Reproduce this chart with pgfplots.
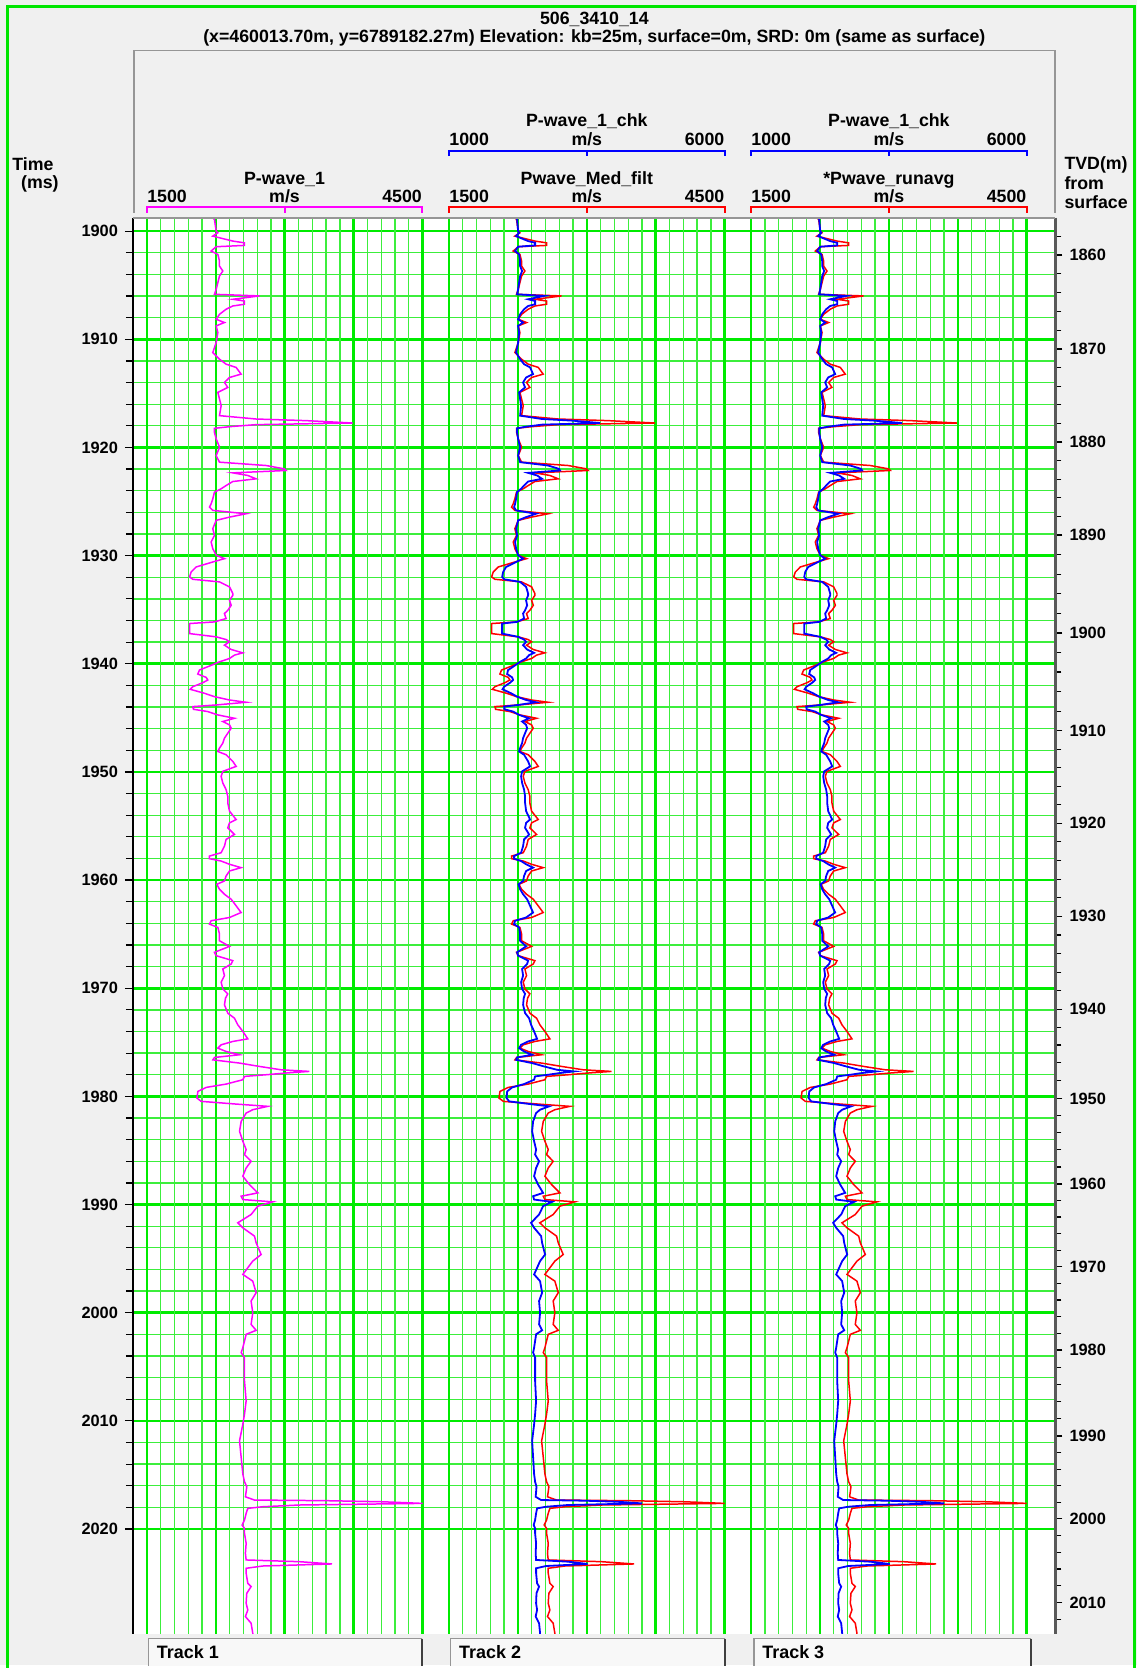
\documentclass[border=0pt]{standalone}
\usepackage{pgfplots}
\pgfplotsset{compat=1.18}
\usepackage{pgfplotstable}
\usepackage{fontspec}
\setmainfont{Liberation Sans}

\definecolor{gridmaj}{RGB}{0,235,0}
\definecolor{gridmin}{RGB}{60,238,60}
\definecolor{bggray}{RGB}{240,240,240}
\definecolor{boxline}{RGB}{150,150,150}
\definecolor{logmag}{RGB}{255,0,255}
\definecolor{logred}{RGB}{255,0,0}
\definecolor{logblue}{RGB}{0,0,255}
\definecolor{frameg}{RGB}{0,230,0}

% P-wave velocity (m/s) against two-way time (ms)
\pgfplotstableread{
t v
1898.77 2217
1898.92 2235
1900.00 2254
1900.15 2272
1900.46 2217
1900.92 2435
1901.08 2562
1901.32 2562
1901.44 2254
1901.84 2199
1902.15 2272
1902.77 2290
1903.23 2290
1903.69 2326
1904.15 2290
1904.76 2272
1905.38 2254
1905.84 2235
1905.99 2725
1906.30 2435
1906.46 2562
1906.76 2562
1906.92 2435
1907.22 2362
1907.69 2290
1908.15 2254
1908.45 2344
1908.76 2254
1909.38 2272
1910.30 2254
1911.22 2217
1911.84 2290
1912.30 2362
1912.60 2471
1913.22 2525
1913.53 2399
1913.99 2344
1914.45 2380
1914.91 2272
1915.52 2290
1916.14 2308
1917.06 2290
1917.37 2688
1917.52 3232
1917.74 3739
1917.89 2688
1918.08 2399
1918.23 2235
1918.60 2235
1919.21 2254
1919.98 2290
1920.75 2254
1921.36 2290
1921.67 2797
1921.98 2996
1922.13 3014
1922.35 2435
1922.59 2598
1922.90 2688
1923.15 2435
1923.52 2362
1923.82 2308
1924.13 2235
1924.75 2217
1925.21 2199
1925.52 2181
1925.82 2217
1926.13 2580
1926.44 2399
1926.74 2254
1927.51 2217
1928.13 2235
1928.74 2199
1929.36 2217
1929.97 2254
1930.28 2344
1930.59 2217
1931.05 2036
1931.51 1982
1931.97 1964
1932.19 2000
1932.43 2290
1932.89 2399
1933.51 2435
1933.67 2435
1934.14 2399
1934.60 2417
1935.06 2380
1935.36 2344
1935.82 2362
1936.13 2235
1936.28 1964
1937.21 1964
1937.51 2254
1937.76 2362
1937.97 2399
1938.28 2344
1938.68 2417
1938.99 2543
1939.20 2453
1939.51 2399
1939.82 2290
1940.21 2181
1940.58 2072
1940.95 2054
1941.26 2145
1941.50 2163
1941.75 2109
1942.12 2000
1942.36 1971
1942.73 2127
1943.04 2235
1943.35 2399
1943.56 2580
1943.81 2254
1943.96 2000
1944.21 2007
1944.42 2163
1944.73 2272
1945.04 2453
1945.34 2326
1945.65 2399
1945.96 2417
1946.42 2380
1946.88 2344
1947.34 2326
1947.80 2290
1948.11 2272
1948.41 2362
1949.03 2435
1949.49 2471
1949.95 2326
1950.41 2308
1951.02 2326
1951.64 2362
1952.25 2380
1952.86 2380
1953.63 2399
1954.40 2471
1954.71 2399
1955.17 2380
1955.78 2453
1956.24 2362
1956.86 2344
1957.47 2308
1957.78 2181
1958.02 2181
1958.24 2308
1958.54 2399
1958.85 2525
1959.16 2399
1959.62 2362
1960.08 2344
1960.39 2261
1960.85 2290
1961.31 2344
1961.77 2417
1962.38 2471
1963.00 2525
1963.46 2399
1963.76 2199
1964.07 2181
1964.38 2272
1964.99 2290
1965.61 2290
1966.13 2399
1966.68 2235
1966.99 2254
1967.45 2435
1967.76 2417
1968.22 2326
1968.83 2344
1969.44 2308
1970.06 2326
1970.52 2380
1970.92 2355
1971.54 2344
1972.31 2381
1972.77 2453
1973.38 2489
1974.00 2544
1974.68 2598
1974.92 2435
1975.23 2308
1975.54 2272
1975.85 2363
1976.15 2508
1976.40 2236
1976.62 2218
1976.92 2508
1977.23 2725
1977.54 2960
1977.69 3268
1977.85 2997
1978.00 2797
1978.15 2562
1978.46 2544
1978.86 2363
1979.17 2145
1979.54 2055
1980.15 2044
1980.46 2091
1980.71 2471
1980.92 2816
1981.23 2652
1981.54 2580
1982.31 2526
1983.23 2508
1984.15 2544
1984.92 2580
1985.38 2562
1986.00 2634
1986.62 2580
1987.38 2544
1988.15 2616
1988.92 2707
1989.23 2526
1989.54 2544
1989.75 2870
1990.15 2707
1990.92 2634
1991.69 2489
1992.15 2544
1992.92 2671
1993.54 2689
1994.62 2743
1995.23 2652
1996.46 2544
1997.08 2652
1998.15 2689
1998.92 2634
2000.00 2652
2001.08 2634
2001.63 2689
2002.00 2580
2003.23 2544
2003.69 2526
2004.15 2562
2006.31 2562
2008.15 2580
2009.38 2562
2010.31 2544
2011.85 2508
2013.38 2526
2014.92 2544
2015.63 2562
2016.09 2587
2016.55 2580
2017.02 2572
2017.32 2670
2017.38 3449
2017.48 4065
2017.63 4500
2017.78 3159
2017.94 2761
2018.09 2598
2018.55 2580
2019.17 2562
2019.63 2536
2019.94 2562
2020.40 2562
2021.32 2580
2022.25 2572
2022.86 2580
2023.02 3159
2023.23 3514
2023.42 2761
2023.63 2580
2024.09 2580
2025.02 2598
2025.32 2634
2025.94 2587
2026.86 2580
2027.48 2598
2028.09 2572
2028.71 2634
2029.63 2652
2029.70 2652
}\pwave

\newcommand{\lbl}{\fontsize{8.2}{9}\selectfont\bfseries}
\newcommand{\hdr}{\fontsize{8.9}{10}\selectfont\bfseries}

\pgfplotsset{
  logtrack/.style={
    anchor=north west, scale only axis, width=138.2pt, height=710pt,
    ymin=1898.76, ymax=2029.70, y dir=reverse,
    axis line style={draw=none},
    ytick=\empty, xticklabels={},
    major tick length=0pt, minor tick length=0pt,
    minor x tick num=4,
    xmajorgrids, xminorgrids,
    major grid style={line width=1.3pt, gridmaj},
    minor grid style={line width=0.65pt, gridmin},
  },
  logcurve/.style={sharp plot, no markers, line width=0.75pt, line join=miter},
}

% header scale bar: left, right, bar y, colour, left value, right value
\newcommand{\scalebar}[6]{%
  \draw[#4, line width=1pt] (#1,#3+5.5) -- (#1,#3) -- (#2,#3) -- (#2,#3+5.5);
  \draw[#4, line width=1pt] ({(#1+#2)/2},#3) -- ({(#1+#2)/2},#3+5.5);
  \node[anchor=base west, inner sep=0, font=\hdr] at (#1,#3-5) {#5};
  \node[anchor=base, inner sep=0, font=\hdr] at ({(#1+#2)/2},#3-5) {m/s};
  \node[anchor=base east, inner sep=0, font=\hdr] at (#2,#3-5) {#6};
}

\begin{document}
\begin{tikzpicture}
\begin{scope}[x=0.5pt,y=-0.5pt]
  \path[use as bounding box] (0,0) rectangle (1140,1669);
  \fill[bggray] (0,0) rectangle (1140,1669);
\end{scope}

% time axis, horizontal grid
\begin{axis}[
  at={(66.65pt,-109.15pt)}, anchor=north west, scale only axis,
  width=462.5pt, height=710pt,
  xmin=0, xmax=1, ymin=1898.76, ymax=2029.70, y dir=reverse,
  axis x line=none, axis y line*=left,
  y axis line style={-, black, line width=1pt},
  ytick={1900,1910,...,2020}, minor y tick num=4,
  ymajorgrids, yminorgrids,
  major grid style={line width=1.3pt, gridmaj},
  minor grid style={line width=0.65pt, gridmin},
  tick align=outside, major tick length=4pt, minor tick length=3.5pt,
  tick style={black, line width=0.6pt},
  yticklabel style={font=\lbl},
  /pgf/number format/1000 sep={},
  /pgf/number format/assume math mode=true,
  axis background/.style={fill=white},
]
\end{axis}

% Track 1
\begin{axis}[logtrack, at={(73.65pt,-109.15pt)}, xmin=1500, xmax=4500,
  xtick={1500,2250,...,4500}]
  \addplot[logcurve, logmag] table[x=v, y=t] {\pwave};
\end{axis}

% Track 2
\begin{axis}[logtrack, at={(225.1pt,-109.15pt)}, xmin=1500, xmax=4500,
  xtick={1500,2250,...,4500}]
  \addplot[logcurve, logred] table[x=v, y=t] {\pwave};
\end{axis}
\begin{axis}[logtrack, hide axis, at={(225.1pt,-109.15pt)}, xmin=1000, xmax=6000]
  \addplot[logcurve, logblue, line width=0.9pt] table[x=v, y=t] {\pwave};
\end{axis}

% Track 3
\begin{axis}[logtrack, at={(376.55pt,-109.15pt)}, xmin=1500, xmax=4500,
  xtick={1500,2250,...,4500}]
  \addplot[logcurve, logred] table[x=v, y=t] {\pwave};
\end{axis}
\begin{axis}[logtrack, hide axis, at={(376.55pt,-109.15pt)}, xmin=1000, xmax=6000]
  \addplot[logcurve, logblue, line width=0.9pt] table[x=v, y=t] {\pwave};
\end{axis}

% TVD axis
\begin{axis}[
  at={(66.65pt,-109.15pt)}, anchor=north west, scale only axis,
  width=462.5pt, height=710pt,
  xmin=0, xmax=1, ymin=1898.76, ymax=2029.70, y dir=reverse,
  axis x line=none, axis y line*=right,
  y axis line style={-, black!65, line width=1.3pt},
  ytick={1902.2,1910.9,1919.5,1928.1,1937.15,1946.2,1954.75,1963.35,1971.95,1980.2,1988.1,1995.75,2003.45,2011.4,2019.05,2026.8},
  yticklabels={1860,1870,1880,1890,1900,1910,1920,1930,1940,1950,1960,1970,1980,1990,2000,2010},
  minor ytick={1900.46,1903.94,1905.68,1907.42,1909.16,1912.62,1914.34,1916.06,1917.78,1921.22,1922.94,1924.66,1926.38,1929.91,1931.72,1933.53,1935.34,1938.96,1940.77,1942.58,1944.39,1947.91,1949.62,1951.33,1953.04,1956.47,1958.19,1959.91,1961.63,1965.07,1966.79,1968.51,1970.23,1973.60,1975.25,1976.90,1978.55,1981.78,1983.36,1984.94,1986.52,1989.63,1991.16,1992.69,1994.22,1997.29,1998.83,2000.37,2001.91,2005.04,2006.63,2008.22,2009.81,2012.93,2014.46,2015.99,2017.52,2020.60,2022.15,2023.70,2025.25,2028.35},
  tick align=outside, major tick length=3.5pt, minor tick length=3pt,
  tick style={black, line width=0.6pt},
  yticklabel style={font=\lbl},
]
\end{axis}

\begin{scope}[x=0.5pt,y=-0.5pt]
  % plot area top edge
  \draw[boxline, line width=0.8pt] (133.3,218.3) -- (1058.3,218.3);
  % header box
  \draw[boxline, line width=0.9pt] (134.5,213.3) -- (134.5,50.7) -- (1058,50.7) -- (1058,213.3);
  % titles
  \node[font=\hdr, inner sep=0] at (596,19) {506\_3410\_14};
  \node[font=\hdr, inner sep=0] at (596,38) {(x=460013.70m, y=6789182.27m) Elevation: kb=25m, surface=0m, SRD: 0m (same as surface)};
  \node[font=\hdr, inner sep=0] at (33,165) {Time};
  \node[font=\hdr, inner sep=0] at (40,184) {(ms)};
  \node[font=\hdr, inner sep=0, anchor=west] at (1067,165) {TVD(m)};
  \node[font=\hdr, inner sep=0, anchor=west] at (1067,184) {from};
  \node[font=\hdr, inner sep=0, anchor=west] at (1067,203) {surface};
  % track 1 header
  \scalebar{147.3}{423.3}{208}{logmag}{1500}{4500}
  \node[font=\hdr, anchor=base, inner sep=0] at (285.3,185) {P-wave\_1};
  % track 2 header
  \scalebar{450.2}{726.6}{151}{logblue}{1000}{6000}
  \node[font=\hdr, anchor=base, inner sep=0] at (588.4,127) {P-wave\_1\_chk};
  \scalebar{450.2}{726.6}{208}{logred}{1500}{4500}
  \node[font=\hdr, anchor=base, inner sep=0] at (588.4,185) {Pwave\_Med\_filt};
  % track 3 header
  \scalebar{753.1}{1029.5}{151}{logblue}{1000}{6000}
  \node[font=\hdr, anchor=base, inner sep=0] at (891.3,127) {P-wave\_1\_chk};
  \scalebar{753.1}{1029.5}{208}{logred}{1500}{4500}
  \node[font=\hdr, anchor=base, inner sep=0] at (891.3,185) {*Pwave\_runavg};
  % track buttons
  \foreach \L/\R/\name in {149/423/Track 1, 452/727/Track 2, 756/1034/Track 3}{
    \fill[white!50!bggray] (\L,1643) rectangle (\R,1670);
    \draw[boxline, line width=0.6pt] (\L,1670) -- (\L,1643) -- (\R,1643);
    \draw[black!75, line width=1pt] (\R,1643) -- (\R,1670);
    \node[anchor=west, font=\fontsize{9}{10}\selectfont\bfseries, inner sep=0] at (\L+8,1657) {\name};
  }
  % window frame
  \draw[frameg, line width=1.5pt] (8,1672) -- (8,7) -- (1137.5,7) -- (1137.5,1672);
\end{scope}
\end{tikzpicture}
\end{document}
